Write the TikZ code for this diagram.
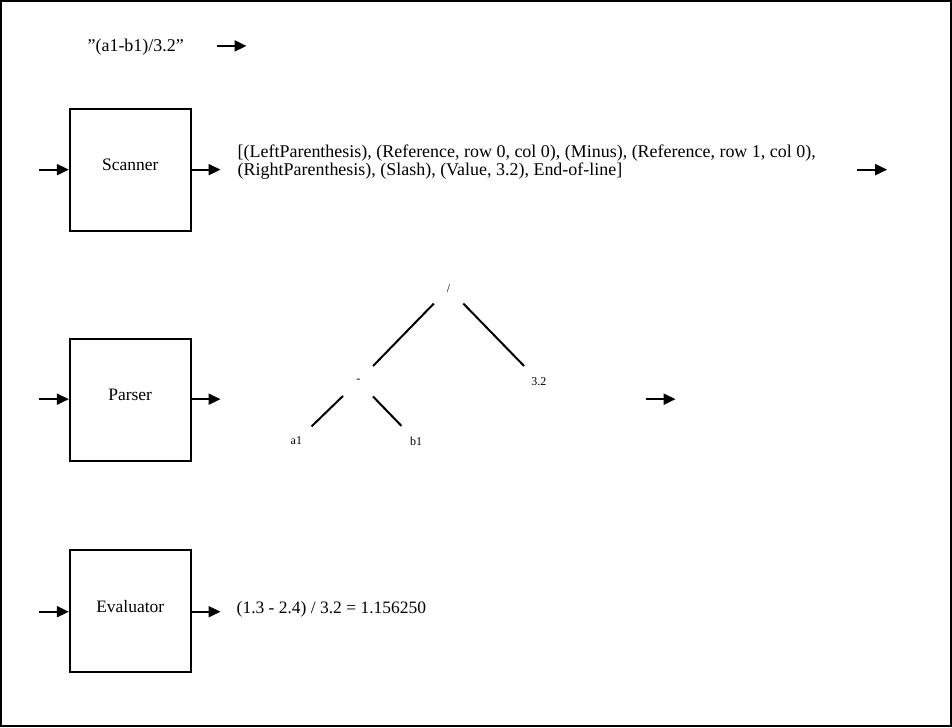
\documentclass[tikz,border=0pt]{standalone}
\usepackage{fontspec}
\setmainfont{Liberation Serif}
\usetikzlibrary{arrows.meta}

\begin{document}
\begin{tikzpicture}[x=1pt,y=-1pt,
  stage/.style={draw,line width=2pt,minimum width=121pt,minimum height=122pt,inner sep=0pt,text height=10pt,text depth=8pt,font=\fontsize{17.5}{18}\selectfont},
  flow/.style={line width=2pt,-{Triangle[length=12pt,width=11pt]}},
  txt/.style={inner sep=0pt,font=\fontsize{18}{18}\selectfont},
  leaf/.style={circle,minimum size=42pt,inner sep=0pt,font=\fontsize{12}{12}\selectfont},
  branch/.style={line width=2pt}]
\draw[line width=2pt,use as bounding box] (0,0) rectangle (952,727);

% input string
\node[txt] (input) at (135,46) {”(a1-b1)/3.2”};
\coordinate (inA) at (216,45);
\coordinate (inB) at (246,45);
\draw[flow] (inA) -- (inB);

% scanner
\node[stage] (scanner) at (129.5,169) {Scanner};
\coordinate (scanIn) at (38,169);
\coordinate (scanOut) at (220,169);
\draw[flow] (scanIn) -- (scanner.west);
\draw[flow] (scanner.east) -- (scanOut);
\node[txt,anchor=west,align=left] (tokens) at (237,161) {[(LeftParenthesis), (Reference, row 0, col 0), (Minus), (Reference, row 1, col 0),\\(RightParenthesis), (Slash), (Value, 3.2), End-of-line]};
\coordinate (tokA) at (858,169);
\coordinate (tokB) at (888,169);
\draw[flow] (tokA) -- (tokB);

% parser
\node[stage] (parser) at (129.5,399.5) {Parser};
\coordinate (parseIn) at (38,399);
\coordinate (parseOut) at (220,399);
\draw[flow] (parseIn) -- (parser.west |- parseIn);
\draw[flow] (parser.east |- parseOut) -- (parseOut);

% syntax tree
\node[leaf] (div) at (448.5,288) {/};
\node[leaf] (minus) at (358,381) {-};
\node[leaf] (val) at (539,381) {3.2};
\node[leaf] (a1) at (296,441) {a1};
\node[leaf] (b1) at (416,441) {b1};
\draw[branch] (div) -- (minus);
\draw[branch] (div) -- (val);
\draw[branch] (minus) -- (a1);
\draw[branch] (minus) -- (b1);
\coordinate (treeA) at (646,399);
\coordinate (treeB) at (676,399);
\draw[flow] (treeA) -- (treeB);

% evaluator
\node[stage] (evaluator) at (129.5,611.5) {Evaluator};
\coordinate (evalIn) at (38,612);
\coordinate (evalOut) at (220,612);
\draw[flow] (evalIn) -- (evaluator.west |- evalIn);
\draw[flow] (evaluator.east |- evalOut) -- (evalOut);
\node[txt,anchor=west,font=\fontsize{17.5}{18}\selectfont] (result) at (236,610) {(1.3 - 2.4) / 3.2 = 1.156250};
\end{tikzpicture}
\end{document}
